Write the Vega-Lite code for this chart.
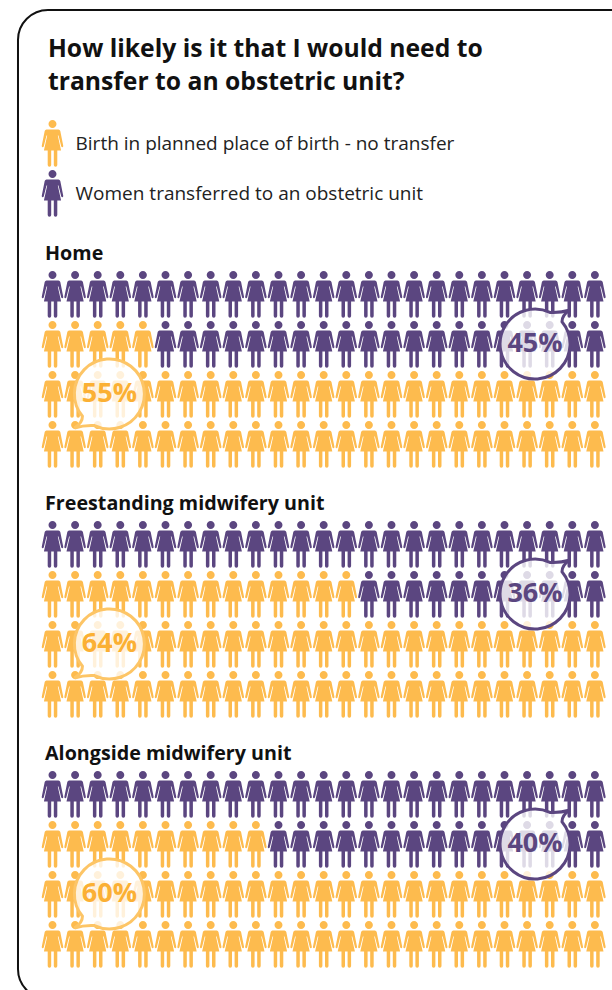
{"$schema":"https://vega.github.io/schema/vega-lite/v6.json","autosize":{"type":"fit","contains":"padding"},"width":612,"height":990,"padding":0,"background":"white","view":{"stroke":null},
"config":{"font":"Open Sans"},
"datasets":{"icons":[
{"c":0,"r":0,"g":"T"},{"c":1,"r":0,"g":"T"},{"c":2,"r":0,"g":"T"},{"c":3,"r":0,"g":"T"},{"c":4,"r":0,"g":"T"},{"c":5,"r":0,"g":"T"},{"c":6,"r":0,"g":"T"},{"c":7,"r":0,"g":"T"},{"c":8,"r":0,"g":"T"},{"c":9,"r":0,"g":"T"},{"c":10,"r":0,"g":"T"},{"c":11,"r":0,"g":"T"},{"c":12,"r":0,"g":"T"},{"c":13,"r":0,"g":"T"},{"c":14,"r":0,"g":"T"},{"c":15,"r":0,"g":"T"},{"c":16,"r":0,"g":"T"},{"c":17,"r":0,"g":"T"},{"c":18,"r":0,"g":"T"},{"c":19,"r":0,"g":"T"},{"c":20,"r":0,"g":"T"},{"c":21,"r":0,"g":"T"},{"c":22,"r":0,"g":"T"},{"c":23,"r":0,"g":"T"},{"c":24,"r":0,"g":"T"},
{"c":0,"r":1,"g":"N"},{"c":1,"r":1,"g":"N"},{"c":2,"r":1,"g":"N"},{"c":3,"r":1,"g":"N"},{"c":4,"r":1,"g":"N"},{"c":5,"r":1,"g":"T"},{"c":6,"r":1,"g":"T"},{"c":7,"r":1,"g":"T"},{"c":8,"r":1,"g":"T"},{"c":9,"r":1,"g":"T"},{"c":10,"r":1,"g":"T"},{"c":11,"r":1,"g":"T"},{"c":12,"r":1,"g":"T"},{"c":13,"r":1,"g":"T"},{"c":14,"r":1,"g":"T"},{"c":15,"r":1,"g":"T"},{"c":16,"r":1,"g":"T"},{"c":17,"r":1,"g":"T"},{"c":18,"r":1,"g":"T"},{"c":19,"r":1,"g":"T"},{"c":20,"r":1,"g":"T"},{"c":21,"r":1,"g":"T"},{"c":22,"r":1,"g":"T"},{"c":23,"r":1,"g":"T"},{"c":24,"r":1,"g":"T"},
{"c":0,"r":2,"g":"N"},{"c":1,"r":2,"g":"N"},{"c":2,"r":2,"g":"N"},{"c":3,"r":2,"g":"N"},{"c":4,"r":2,"g":"N"},{"c":5,"r":2,"g":"N"},{"c":6,"r":2,"g":"N"},{"c":7,"r":2,"g":"N"},{"c":8,"r":2,"g":"N"},{"c":9,"r":2,"g":"N"},{"c":10,"r":2,"g":"N"},{"c":11,"r":2,"g":"N"},{"c":12,"r":2,"g":"N"},{"c":13,"r":2,"g":"N"},{"c":14,"r":2,"g":"N"},{"c":15,"r":2,"g":"N"},{"c":16,"r":2,"g":"N"},{"c":17,"r":2,"g":"N"},{"c":18,"r":2,"g":"N"},{"c":19,"r":2,"g":"N"},{"c":20,"r":2,"g":"N"},{"c":21,"r":2,"g":"N"},{"c":22,"r":2,"g":"N"},{"c":23,"r":2,"g":"N"},{"c":24,"r":2,"g":"N"},
{"c":0,"r":3,"g":"N"},{"c":1,"r":3,"g":"N"},{"c":2,"r":3,"g":"N"},{"c":3,"r":3,"g":"N"},{"c":4,"r":3,"g":"N"},{"c":5,"r":3,"g":"N"},{"c":6,"r":3,"g":"N"},{"c":7,"r":3,"g":"N"},{"c":8,"r":3,"g":"N"},{"c":9,"r":3,"g":"N"},{"c":10,"r":3,"g":"N"},{"c":11,"r":3,"g":"N"},{"c":12,"r":3,"g":"N"},{"c":13,"r":3,"g":"N"},{"c":14,"r":3,"g":"N"},{"c":15,"r":3,"g":"N"},{"c":16,"r":3,"g":"N"},{"c":17,"r":3,"g":"N"},{"c":18,"r":3,"g":"N"},{"c":19,"r":3,"g":"N"},{"c":20,"r":3,"g":"N"},{"c":21,"r":3,"g":"N"},{"c":22,"r":3,"g":"N"},{"c":23,"r":3,"g":"N"},{"c":24,"r":3,"g":"N"},
{"c":0,"r":5,"g":"T"},{"c":1,"r":5,"g":"T"},{"c":2,"r":5,"g":"T"},{"c":3,"r":5,"g":"T"},{"c":4,"r":5,"g":"T"},{"c":5,"r":5,"g":"T"},{"c":6,"r":5,"g":"T"},{"c":7,"r":5,"g":"T"},{"c":8,"r":5,"g":"T"},{"c":9,"r":5,"g":"T"},{"c":10,"r":5,"g":"T"},{"c":11,"r":5,"g":"T"},{"c":12,"r":5,"g":"T"},{"c":13,"r":5,"g":"T"},{"c":14,"r":5,"g":"T"},{"c":15,"r":5,"g":"T"},{"c":16,"r":5,"g":"T"},{"c":17,"r":5,"g":"T"},{"c":18,"r":5,"g":"T"},{"c":19,"r":5,"g":"T"},{"c":20,"r":5,"g":"T"},{"c":21,"r":5,"g":"T"},{"c":22,"r":5,"g":"T"},{"c":23,"r":5,"g":"T"},{"c":24,"r":5,"g":"T"},
{"c":0,"r":6,"g":"N"},{"c":1,"r":6,"g":"N"},{"c":2,"r":6,"g":"N"},{"c":3,"r":6,"g":"N"},{"c":4,"r":6,"g":"N"},{"c":5,"r":6,"g":"N"},{"c":6,"r":6,"g":"N"},{"c":7,"r":6,"g":"N"},{"c":8,"r":6,"g":"N"},{"c":9,"r":6,"g":"N"},{"c":10,"r":6,"g":"N"},{"c":11,"r":6,"g":"N"},{"c":12,"r":6,"g":"N"},{"c":13,"r":6,"g":"N"},{"c":14,"r":6,"g":"T"},{"c":15,"r":6,"g":"T"},{"c":16,"r":6,"g":"T"},{"c":17,"r":6,"g":"T"},{"c":18,"r":6,"g":"T"},{"c":19,"r":6,"g":"T"},{"c":20,"r":6,"g":"T"},{"c":21,"r":6,"g":"T"},{"c":22,"r":6,"g":"T"},{"c":23,"r":6,"g":"T"},{"c":24,"r":6,"g":"T"},
{"c":0,"r":7,"g":"N"},{"c":1,"r":7,"g":"N"},{"c":2,"r":7,"g":"N"},{"c":3,"r":7,"g":"N"},{"c":4,"r":7,"g":"N"},{"c":5,"r":7,"g":"N"},{"c":6,"r":7,"g":"N"},{"c":7,"r":7,"g":"N"},{"c":8,"r":7,"g":"N"},{"c":9,"r":7,"g":"N"},{"c":10,"r":7,"g":"N"},{"c":11,"r":7,"g":"N"},{"c":12,"r":7,"g":"N"},{"c":13,"r":7,"g":"N"},{"c":14,"r":7,"g":"N"},{"c":15,"r":7,"g":"N"},{"c":16,"r":7,"g":"N"},{"c":17,"r":7,"g":"N"},{"c":18,"r":7,"g":"N"},{"c":19,"r":7,"g":"N"},{"c":20,"r":7,"g":"N"},{"c":21,"r":7,"g":"N"},{"c":22,"r":7,"g":"N"},{"c":23,"r":7,"g":"N"},{"c":24,"r":7,"g":"N"},
{"c":0,"r":8,"g":"N"},{"c":1,"r":8,"g":"N"},{"c":2,"r":8,"g":"N"},{"c":3,"r":8,"g":"N"},{"c":4,"r":8,"g":"N"},{"c":5,"r":8,"g":"N"},{"c":6,"r":8,"g":"N"},{"c":7,"r":8,"g":"N"},{"c":8,"r":8,"g":"N"},{"c":9,"r":8,"g":"N"},{"c":10,"r":8,"g":"N"},{"c":11,"r":8,"g":"N"},{"c":12,"r":8,"g":"N"},{"c":13,"r":8,"g":"N"},{"c":14,"r":8,"g":"N"},{"c":15,"r":8,"g":"N"},{"c":16,"r":8,"g":"N"},{"c":17,"r":8,"g":"N"},{"c":18,"r":8,"g":"N"},{"c":19,"r":8,"g":"N"},{"c":20,"r":8,"g":"N"},{"c":21,"r":8,"g":"N"},{"c":22,"r":8,"g":"N"},{"c":23,"r":8,"g":"N"},{"c":24,"r":8,"g":"N"},
{"c":0,"r":10,"g":"T"},{"c":1,"r":10,"g":"T"},{"c":2,"r":10,"g":"T"},{"c":3,"r":10,"g":"T"},{"c":4,"r":10,"g":"T"},{"c":5,"r":10,"g":"T"},{"c":6,"r":10,"g":"T"},{"c":7,"r":10,"g":"T"},{"c":8,"r":10,"g":"T"},{"c":9,"r":10,"g":"T"},{"c":10,"r":10,"g":"T"},{"c":11,"r":10,"g":"T"},{"c":12,"r":10,"g":"T"},{"c":13,"r":10,"g":"T"},{"c":14,"r":10,"g":"T"},{"c":15,"r":10,"g":"T"},{"c":16,"r":10,"g":"T"},{"c":17,"r":10,"g":"T"},{"c":18,"r":10,"g":"T"},{"c":19,"r":10,"g":"T"},{"c":20,"r":10,"g":"T"},{"c":21,"r":10,"g":"T"},{"c":22,"r":10,"g":"T"},{"c":23,"r":10,"g":"T"},{"c":24,"r":10,"g":"T"},
{"c":0,"r":11,"g":"N"},{"c":1,"r":11,"g":"N"},{"c":2,"r":11,"g":"N"},{"c":3,"r":11,"g":"N"},{"c":4,"r":11,"g":"N"},{"c":5,"r":11,"g":"N"},{"c":6,"r":11,"g":"N"},{"c":7,"r":11,"g":"N"},{"c":8,"r":11,"g":"N"},{"c":9,"r":11,"g":"N"},{"c":10,"r":11,"g":"T"},{"c":11,"r":11,"g":"T"},{"c":12,"r":11,"g":"T"},{"c":13,"r":11,"g":"T"},{"c":14,"r":11,"g":"T"},{"c":15,"r":11,"g":"T"},{"c":16,"r":11,"g":"T"},{"c":17,"r":11,"g":"T"},{"c":18,"r":11,"g":"T"},{"c":19,"r":11,"g":"T"},{"c":20,"r":11,"g":"T"},{"c":21,"r":11,"g":"T"},{"c":22,"r":11,"g":"T"},{"c":23,"r":11,"g":"T"},{"c":24,"r":11,"g":"T"},
{"c":0,"r":12,"g":"N"},{"c":1,"r":12,"g":"N"},{"c":2,"r":12,"g":"N"},{"c":3,"r":12,"g":"N"},{"c":4,"r":12,"g":"N"},{"c":5,"r":12,"g":"N"},{"c":6,"r":12,"g":"N"},{"c":7,"r":12,"g":"N"},{"c":8,"r":12,"g":"N"},{"c":9,"r":12,"g":"N"},{"c":10,"r":12,"g":"N"},{"c":11,"r":12,"g":"N"},{"c":12,"r":12,"g":"N"},{"c":13,"r":12,"g":"N"},{"c":14,"r":12,"g":"N"},{"c":15,"r":12,"g":"N"},{"c":16,"r":12,"g":"N"},{"c":17,"r":12,"g":"N"},{"c":18,"r":12,"g":"N"},{"c":19,"r":12,"g":"N"},{"c":20,"r":12,"g":"N"},{"c":21,"r":12,"g":"N"},{"c":22,"r":12,"g":"N"},{"c":23,"r":12,"g":"N"},{"c":24,"r":12,"g":"N"},
{"c":0,"r":13,"g":"N"},{"c":1,"r":13,"g":"N"},{"c":2,"r":13,"g":"N"},{"c":3,"r":13,"g":"N"},{"c":4,"r":13,"g":"N"},{"c":5,"r":13,"g":"N"},{"c":6,"r":13,"g":"N"},{"c":7,"r":13,"g":"N"},{"c":8,"r":13,"g":"N"},{"c":9,"r":13,"g":"N"},{"c":10,"r":13,"g":"N"},{"c":11,"r":13,"g":"N"},{"c":12,"r":13,"g":"N"},{"c":13,"r":13,"g":"N"},{"c":14,"r":13,"g":"N"},{"c":15,"r":13,"g":"N"},{"c":16,"r":13,"g":"N"},{"c":17,"r":13,"g":"N"},{"c":18,"r":13,"g":"N"},{"c":19,"r":13,"g":"N"},{"c":20,"r":13,"g":"N"},{"c":21,"r":13,"g":"N"},{"c":22,"r":13,"g":"N"},{"c":23,"r":13,"g":"N"},{"c":24,"r":13,"g":"N"},
{"c":0,"r":-3.02,"g":"N"},{"c":0,"r":-2.02,"g":"T"}
],
"callouts":[
{"panel":"Home","g":"N","label":"55%","c":2.52,"r":1.98},
{"panel":"Home","g":"T","label":"45%","c":21.35,"r":0.98},
{"panel":"Freestanding midwifery unit","g":"N","label":"64%","c":2.52,"r":6.98},
{"panel":"Freestanding midwifery unit","g":"T","label":"36%","c":21.35,"r":5.98},
{"panel":"Alongside midwifery unit","g":"N","label":"60%","c":2.52,"r":11.98},
{"panel":"Alongside midwifery unit","g":"T","label":"40%","c":21.35,"r":10.98}
],
"titleText":[{"t":"How likely is it that I would need to","c":-0.2,"r":-4.76},{"t":"transfer to an obstetric unit?","c":-0.2,"r":-4.1}],
"legendText":[{"t":"Birth in planned place of birth - no transfer","c":1.02,"r":-2.9},{"t":"Women transferred to an obstetric unit","c":1.02,"r":-1.9}],
"panelText":[{"t":"Home","c":-0.33,"r":-0.7},{"t":"Freestanding midwifery unit","c":-0.33,"r":4.3},{"t":"Alongside midwifery unit","c":-0.33,"r":9.3}],
"frame":[{"c":-1.527,"c2":27,"r":-5.7,"r2":14.08}]
},
"layer":[
{"data":{"name":"frame"},"mark":{"type":"rect","fill":"white","stroke":"#111111","strokeWidth":2,"cornerRadius":30,"clip":true},
"encoding":{"x":{"field":"c","type":"quantitative","axis":null,"scale":{"domain":[-2.323,24.757],"nice":false,"zero":false}},"x2":{"field":"c2"},"y":{"field":"r","type":"quantitative","axis":null,"scale":{"domain":[-5.9,13.9],"nice":false,"zero":false,"reverse":true}},"y2":{"field":"r2"}}},
{"data":{"name":"icons"},"mark":{"type":"point","filled":true,"opacity":1,"size":4,"shape":"M-4,-20 A4,4 0 1,1 4,-20 A4,4 0 1,1 -4,-20 Z M-6,-14.5 L6,-14.5 Q7.3,-14.5 7.8,-13 L10.7,1.5 Q11,3 9.9,3.2 Q9,3.3 8.7,2.2 L6,-8.5 L5.3,-8.5 L8.6,6.5 L4.8,6.5 L4.8,21 Q4.8,22.7 3.1,22.7 Q1.3,22.7 1.3,21 L1.3,6.5 L-1.3,6.5 L-1.3,21 Q-1.3,22.7 -3.1,22.7 Q-4.8,22.7 -4.8,21 L-4.8,6.5 L-8.6,6.5 L-5.3,-8.5 L-6,-8.5 L-8.7,2.2 Q-9,3.3 -9.9,3.2 Q-11,3 -10.7,1.5 L-7.8,-13 Q-7.3,-14.5 -6,-14.5 Z"},
"encoding":{"x":{"field":"c","type":"quantitative"},"y":{"field":"r","type":"quantitative"},"color":{"field":"g","type":"nominal","legend":null,"scale":{"domain":["N","T"],"range":["#fdbb4e","#5b4680"]}}}},
{"data":{"name":"callouts"},"transform":[{"filter":"datum.g==='T'"}],"mark":{"type":"point","filled":false,"fill":"white","fillOpacity":0.8,"strokeWidth":3,"opacity":1,"size":4,"stroke":"#5b4680","shape":"M15,-31.6 Q25,-31 35,-34 Q27,-29 27,-22.3 A35,35 0 1 1 15,-31.6 Z"},
"encoding":{"x":{"field":"c","type":"quantitative"},"y":{"field":"r","type":"quantitative"}}},
{"data":{"name":"callouts"},"transform":[{"filter":"datum.g==='N'"}],"mark":{"type":"point","filled":false,"fill":"white","fillOpacity":0.8,"strokeWidth":3,"opacity":1,"size":4,"stroke":"#fdc566","shape":"M-15,31.6 Q-25,31 -35,34 Q-27,29 -27,22.3 A35,35 0 1 1 -15,31.6 Z"},
"encoding":{"x":{"field":"c","type":"quantitative"},"y":{"field":"r","type":"quantitative"}}},
{"data":{"name":"callouts"},"mark":{"type":"text","font":"Open Sans","fontWeight":"bold","fontSize":27,"align":"center","baseline":"middle"},
"encoding":{"x":{"field":"c","type":"quantitative"},"y":{"field":"r","type":"quantitative"},"text":{"field":"label"},"color":{"field":"g","type":"nominal","legend":null,"scale":{"domain":["N","T"],"range":["#fbb034","#5b4680"]}}}},
{"data":{"name":"titleText"},"mark":{"type":"text","font":"Open Sans","fontWeight":"bold","fontSize":24.7,"align":"left","baseline":"alphabetic","color":"#111111"},
"encoding":{"x":{"field":"c","type":"quantitative"},"y":{"field":"r","type":"quantitative"},"text":{"field":"t"}}},
{"data":{"name":"legendText"},"mark":{"type":"text","font":"Open Sans","fontSize":19,"align":"left","baseline":"alphabetic","color":"#222222"},
"encoding":{"x":{"field":"c","type":"quantitative"},"y":{"field":"r","type":"quantitative"},"text":{"field":"t"}}},
{"data":{"name":"panelText"},"mark":{"type":"text","font":"Open Sans","fontWeight":"bold","fontSize":19.7,"align":"left","baseline":"alphabetic","color":"#111111"},
"encoding":{"x":{"field":"c","type":"quantitative"},"y":{"field":"r","type":"quantitative"},"text":{"field":"t"}}}
],
"resolve":{"scale":{"color":"independent"}}}
